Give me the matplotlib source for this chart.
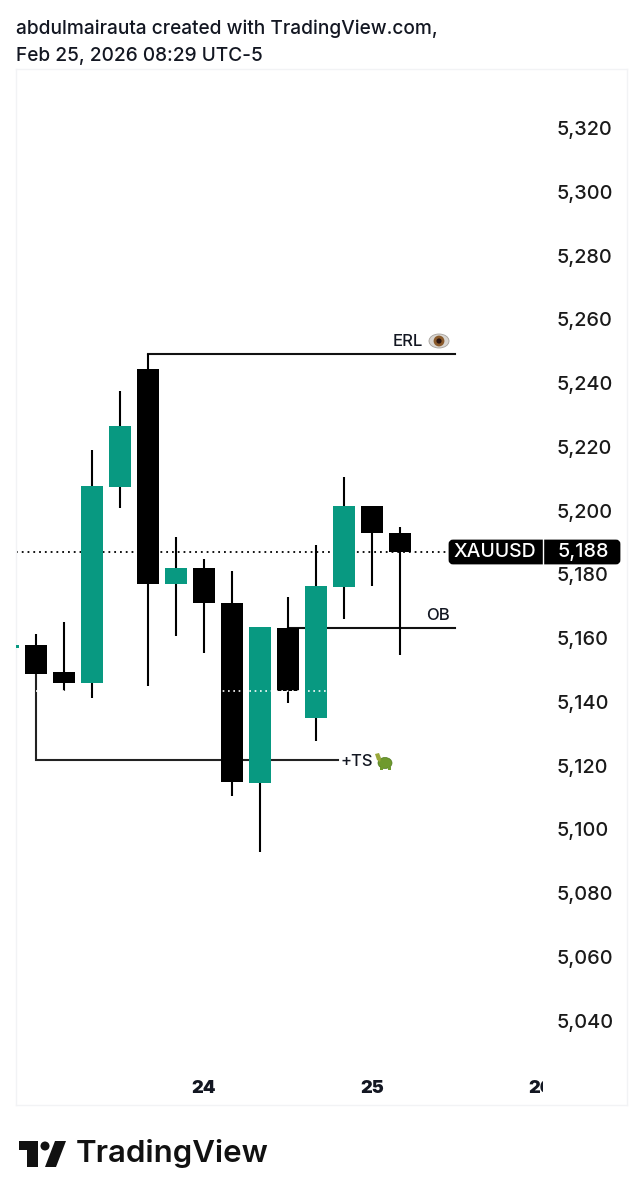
import matplotlib
matplotlib.use('Agg')
import matplotlib.pyplot as plt
from matplotlib.patches import Rectangle, Ellipse, Polygon, Circle, FancyBboxPatch
from matplotlib.transforms import Bbox

W, H = 642, 1200

opens = [5157.9, 5149.4, 5146.0, 5207.4, 5244.4, 5177.0, 5182.0, 5171.0, 5114.6, 5163.2, 5135.0, 5176.0, 5201.5, 5193.0]
closes = [5148.8, 5146.0, 5207.7, 5226.6, 5177.0, 5182.0, 5171.0, 5115.0, 5163.5, 5143.5, 5176.4, 5201.5, 5193.0, 5187.0]
highs = [5161.3, 5165.0, 5219.0, 5237.5, 5249.2, 5191.7, 5184.9, 5181.0, 5163.5, 5173.0, 5189.2, 5210.6, 5201.5, 5194.9]
lows = [5148.8, 5143.5, 5141.3, 5200.8, 5145.0, 5160.7, 5155.4, 5110.5, 5093.0, 5139.7, 5127.8, 5166.0, 5176.4, 5154.8]

price_ticks = [5040, 5060, 5080, 5100, 5120, 5140, 5160, 5180, 5200, 5220, 5240, 5260, 5280, 5300, 5320]
day_ticks = [6, 12, 18]
day_labels = ['24', '25', '26']

last_price = 5187.0
erl_price = 5249.2
ob_price = 5163.1
ts_price = 5121.8
session_price = 5143.5

green = '#089981'
plt.rcParams['font.family'] = ['Inter', 'DejaVu Sans']

fig = plt.figure(figsize=(W / 100, H / 100), dpi=100, facecolor='white')

# chart area in pixels: x 16-627, y 69-1105
ax = fig.add_axes([16 / W, 1 - 1105 / H, 611 / W, 1036 / H])
ax.set_xlim(-0.714, 21.107)
ax.set_ylim(5013.6, 5338.5)

for s in ax.spines.values():
    s.set_color('#f2f3f5')
    s.set_linewidth(1)

# annotation lines go under the candles
ax.plot([4, 4, 14.96], [highs[4], erl_price, erl_price], color='#111111', lw=1.5, zorder=1, solid_joinstyle='miter')
ax.plot([9, 14.96], [ob_price, ob_price], color='#111111', lw=1.5, zorder=1)
ax.plot([0, 0, 10.8], [closes[0], ts_price, ts_price], color='#222222', lw=1.5, zorder=1, solid_joinstyle='miter')
ax.plot([-0.714, 14.7], [last_price, last_price], color='black', lw=1.3, ls=(0, (1, 2.2)), zorder=1)

for i in range(len(opens)):
    up = closes[i] >= opens[i]
    c = green if up else 'black'
    ax.vlines(i, lows[i], highs[i], color='black', lw=1.5, zorder=2)
    ax.bar(i, abs(closes[i] - opens[i]), bottom=min(opens[i], closes[i]), width=22 / 28, color=c, linewidth=0, zorder=3)

ax.plot([0, 10.4], [session_price, session_price], color='white', lw=1.2, ls=(0, (1, 2.2)), zorder=4)

ax.set_yticks(price_ticks)
ax.set_yticklabels([f'{p:,}' for p in price_ticks])
ax.yaxis.tick_right()
ax.tick_params(axis='y', length=0, pad=-51, labelsize=14.3, labelcolor='#1a1a1a')
for t in ax.get_yticklabels():
    t.set_fontweight('medium')

ax.set_xticks(day_ticks)
ax.set_xticklabels(day_labels)
ax.tick_params(axis='x', length=0, pad=-18, labelsize=13, labelcolor='#131722')
for t in ax.get_xticklabels():
    t.set_fontweight('black')
    t.set_clip_on(True)
    t.set_clip_box(Bbox([[0, 0], [543, H]]))

# overlay in pixel coordinates for labels and logo
ov = fig.add_axes([0, 0, 1, 1], facecolor='none')
ov.set_xlim(0, W)
ov.set_ylim(H, 0)
ov.axis('off')

ov.text(16, 29, 'abdulmairauta created with TradingView.com,', fontsize=13.75, color='#131722', va='center', fontweight='medium')
ov.text(16, 56, 'Feb 25, 2026 08:29 UTC-5', fontsize=13.75, color='#131722', va='center', fontweight='medium')

ov.text(393, 342, 'ERL', fontsize=12, color='#131722', va='center', fontweight='medium')
ov.text(426, 615, 'OB', fontsize=12, color='#131722', va='center', fontweight='medium')
ov.text(341, 761, '+TS', fontsize=12, color='#131722', va='center', fontweight='medium')

# eye
ov.add_patch(Ellipse((439, 341), 20, 14, fc='#d9d6d2', ec='#a5a09a', lw=0.6))
ov.add_patch(Circle((439, 341), 5.4, fc='#8a5a2b', ec='none'))
ov.add_patch(Circle((439, 341), 2.6, fc='#2a1512', ec='none'))

# turtle
ov.add_patch(Ellipse((385, 763), 14, 11, fc='#6f9a2d', ec='#4f7a20', lw=0.5))
ov.add_patch(Polygon([(375, 754), (379, 753), (381, 758), (380, 762), (377, 760)], fc='#9aa83a', ec='none'))
ov.add_patch(Rectangle((380, 767), 3, 2.5, fc='#6f9a2d', ec='none'))
ov.add_patch(Rectangle((388, 767), 3, 2.5, fc='#6f9a2d', ec='none'))

# small marks
ov.add_patch(Rectangle((16, 645), 3, 3, fc=green, ec='none'))

# XAUUSD price tag
ov.add_patch(FancyBboxPatch((450, 541), 169, 22, boxstyle='round,pad=0,rounding_size=3', fc='black', ec='black', lw=2))
ov.plot([542.5, 542.5], [539, 565], color='white', lw=1)
ov.text(495, 552, 'XAUUSD', color='white', fontsize=14, va='center', ha='center', fontweight='medium')
ov.text(583, 552, f'{5188:,}', color='white', fontsize=14.3, va='center', ha='center', fontweight='medium')

# TradingView logo
ov.add_patch(Polygon([(19, 1141), (38, 1141), (38, 1167), (27, 1167), (27, 1150), (19, 1150)], fc='#111111', ec='none'))
ov.add_patch(Circle((45, 1146), 4.5, fc='#111111', ec='none'))
ov.add_patch(Polygon([(55, 1141), (66, 1141), (56, 1167), (45, 1167)], fc='#111111', ec='none'))
ov.text(76, 1153, 'TradingView', fontsize=22.5, color='#111111', va='center', fontweight='semibold')

fig.savefig('out.png', dpi=100)
